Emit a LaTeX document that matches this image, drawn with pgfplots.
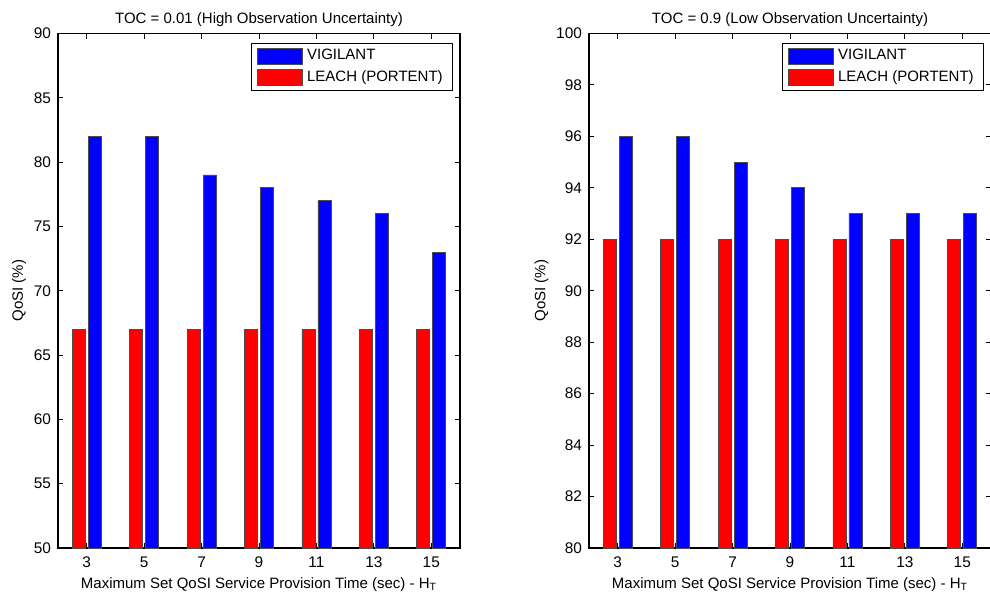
\documentclass[border=0pt]{standalone}
\usepackage{fontspec}
\setmainfont{Liberation Sans}
\usepackage{pgfplots}
\pgfplotsset{compat=1.18}
\pgfplotstableread{
x vig leach
3 82 67
5 82 67
7 79 67
9 78 67
11 77 67
13 76 67
15 73 67
}\lefttab
\pgfplotstableread{
x vig leach
3 96 92
5 96 92
7 95 92
9 94 92
11 93 92
13 93 92
15 93 92
}\righttab
\pgfplotsset{
  mystyle/.style={
    scale only axis, width=201pt, height=257.25pt,
    xmin=2, xmax=16, xtick={3,5,...,15},
    tick align=inside, major tick length=2.5pt,
    tick style={black, line width=0.5pt},
    axis line style={black, line width=0.8pt},
    font=\fontsize{7.5}{9}\selectfont,
    /pgf/number format/assume math mode=true,
    ticklabel style={font=\fontsize{7.7}{9}\selectfont},
    xticklabel style={yshift=-1pt},
    title style={font=\fontsize{7.5}{9}\selectfont, yshift=-6pt},
    xlabel style={font=\fontsize{7.5}{9}\selectfont, yshift=2pt},
    ylabel style={font=\fontsize{7.5}{9}\selectfont, yshift=-3pt},
    xlabel={Maximum Set QoSI Service Provision Time (sec) - H\textsubscript{T}},
    ylabel={QoSI (\%)},
    bar width=6.5pt,
    legend cell align=left,
    legend image code/.code={\draw[#1] (0pt,-4pt) rectangle (22.5pt,4pt);},
    legend style={at={(rel axis cs:0.983,0.982)}, anchor=north east, draw=black, line width=0.5pt,
      font=\fontsize{7.5}{9}\selectfont, inner xsep=3pt, inner ysep=1pt, row sep=0pt},
  }
}
\begin{document}
\begin{tikzpicture}
\path[use as bounding box] (-29pt,-21.5pt) rectangle (466pt,274pt);
\begin{axis}[mystyle, at={(0,0)}, anchor=south west,
  ymin=50, ymax=90, ytick={50,55,...,90},
  title={TOC = 0.01 (High Observation Uncertainty)}]
\addplot[ybar, bar shift=4pt, fill={rgb,255:red,0;green,0;blue,255}, draw=black!70, line width=0.4pt] table[x=x,y=vig] {\lefttab};
\addlegendentry{VIGILANT}
\addplot[ybar, bar shift=-4pt, fill={rgb,255:red,255;green,0;blue,0}, draw=black!70, line width=0.4pt] table[x=x,y=leach] {\lefttab};
\addlegendentry{LEACH (PORTENT)}
\end{axis}
\begin{axis}[mystyle, at={(265.5pt,0)}, anchor=south west,
  ymin=80, ymax=100, ytick={80,82,...,100},
  title={TOC = 0.9 (Low Observation Uncertainty)}]
\addplot[ybar, bar shift=4pt, fill={rgb,255:red,0;green,0;blue,255}, draw=black!70, line width=0.4pt] table[x=x,y=vig] {\righttab};
\addlegendentry{VIGILANT}
\addplot[ybar, bar shift=-4pt, fill={rgb,255:red,255;green,0;blue,0}, draw=black!70, line width=0.4pt] table[x=x,y=leach] {\righttab};
\addlegendentry{LEACH (PORTENT)}
\end{axis}
\end{tikzpicture}
\end{document}
